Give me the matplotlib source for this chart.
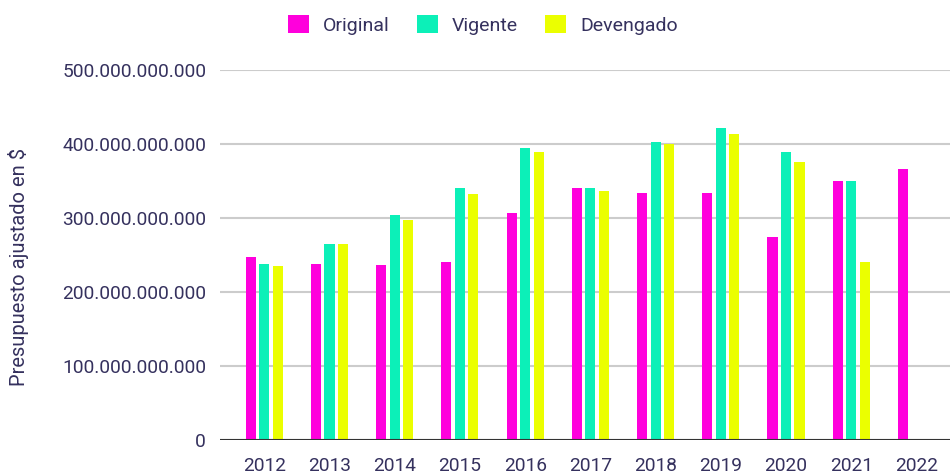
import numpy as np
import matplotlib.pyplot as plt
from matplotlib.ticker import FuncFormatter

plt.rcParams['font.family'] = ['Roboto', 'DejaVu Sans']

years = ['2012', '2013', '2014', '2015', '2016', '2017', '2018', '2019', '2020', '2021', '2022']
# values in pesos
original = [247e9, 238e9, 236e9, 240e9, 307e9, 341e9, 334e9, 334e9, 275e9, 350e9, 366e9]
vigente = [238e9, 265e9, 304e9, 341e9, 394e9, 341e9, 403e9, 421e9, 389e9, 350e9, np.nan]
devengado = [235e9, 265e9, 297e9, 332e9, 389e9, 336e9, 400e9, 414e9, 376e9, 240e9, np.nan]

series = [('Original', original, '#FF00DC'),
          ('Vigente', vigente, '#0CF0B8'),
          ('Devengado', devengado, '#EBFF00')]

text_col = '#35315E'

fig = plt.figure(figsize=(9.51, 4.75), dpi=100)
ax = fig.add_axes([0.2313, 0.0737, 0.768, 0.7789])

x = np.arange(len(years))
step = 0.207
width = 0.155
for i, (name, vals, col) in enumerate(series):
    ax.bar(x + (i - 1) * step, vals, width=width, color=col, label=name, zorder=3)

ax.set_xlim(-0.68, 10.52)
ax.set_ylim(0, 500e9)
ax.set_yticks(np.arange(0, 501e9, 100e9))
ax.yaxis.set_major_formatter(FuncFormatter(lambda v, p: f'{v:,.0f}'.replace(',', '.')))
ax.set_xticks(x)
ax.set_xticklabels(years)

ax.grid(axis='y', color='#CCCCCC', linewidth=1.5, zorder=0)
ax.axhline(0, color='#333333', linewidth=1.5, zorder=4)
for s in ax.spines.values():
    s.set_visible(False)
ax.tick_params(axis='both', length=0, labelsize=13.8, labelcolor=text_col)
ax.tick_params(axis='y', pad=10)
ax.tick_params(axis='x', pad=12)

ax.set_ylabel('Presupuesto ajustado en $', fontsize=14.5, color=text_col)
ax.yaxis.set_label_coords(-0.261, 0.468)

fig.legend(loc='center', bbox_to_anchor=(0.508, 0.948), ncol=3, frameon=False,
           fontsize=14, labelcolor=text_col, handlelength=1.08, handleheight=1.08,
           handletextpad=0.72, columnspacing=1.4)

fig.savefig('out.png', dpi=100)
